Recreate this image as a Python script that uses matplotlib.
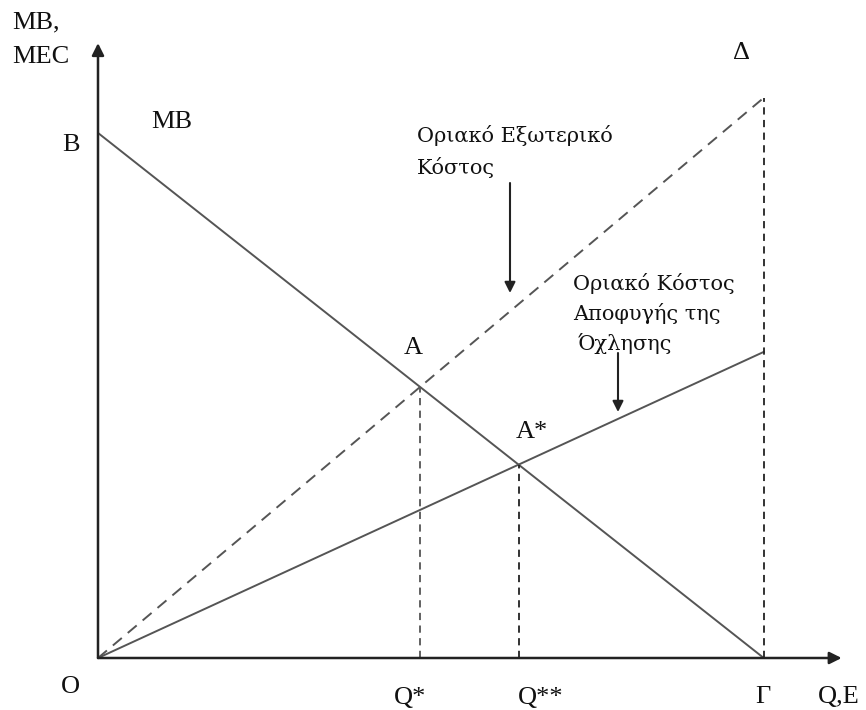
import matplotlib
matplotlib.use("Agg")
import matplotlib.pyplot as plt

# ---- diagram values (data units) ----
B_value = 10.0          # MB intercept on vertical axis (point B)
gamma_q = 10.0          # MB intercept on horizontal axis (point Γ)
mec_at_gamma = 10.67    # marginal external cost at Γ (point Δ)
mac_at_gamma = 5.83     # marginal abatement cost at Γ

x_max = 11.22
y_max = 11.77

# intersections
slope_mb = -B_value / gamma_q
slope_mec = mec_at_gamma / gamma_q
slope_mac = mac_at_gamma / gamma_q
q_star = B_value / (slope_mec - slope_mb)
p_star = slope_mec * q_star
q_2star = B_value / (slope_mac - slope_mb)
p_2star = slope_mac * q_2star

W, H = 866, 710
fig = plt.figure(figsize=(W / 100, H / 100), dpi=100)
left_px, right_px, bottom_px, top_px = 98, 845, 658, 40
ax = fig.add_axes([left_px / W, 1 - bottom_px / H,
                   (right_px - left_px) / W, (bottom_px - top_px) / H])
ax.set_xlim(0, x_max)
ax.set_ylim(0, y_max)
ax.axis("off")

serif = ["Liberation Serif", "DejaVu Serif"]
greek_font = ["DejaVu Serif"]
grey = "#555555"

# axes with arrows
ax.annotate("", xy=(x_max * 0.9955, 0), xytext=(0, 0), xycoords="data",
            arrowprops=dict(arrowstyle="-|>", lw=1.8, color="#222222",
                            mutation_scale=18, shrinkA=0, shrinkB=0))
ax.annotate("", xy=(0, y_max * 0.995), xytext=(0, 0),
            arrowprops=dict(arrowstyle="-|>", lw=1.8, color="#222222",
                            mutation_scale=18, shrinkA=0, shrinkB=0))

# MB line
ax.plot([0, gamma_q], [B_value, 0], color=grey, lw=1.4, solid_capstyle="butt")
# MEC dashed line
ax.plot([0, gamma_q], [0, mec_at_gamma], color=grey, lw=1.4, ls=(0, (6, 4)))
# MAC solid line
ax.plot([0, gamma_q], [0, mac_at_gamma], color=grey, lw=1.4)
# vertical dashed lines
ax.plot([gamma_q, gamma_q], [0, mec_at_gamma], color="#222222", lw=1.3, ls=(0, (4, 3)))
ax.plot([q_star, q_star], [0, p_star], color=grey, lw=1.3, ls=(0, (4, 3)))
ax.plot([q_2star, q_2star], [0, p_2star], color="#222222", lw=1.3, ls=(0, (4, 3)))

def px(xp, yp):
    return ((xp - left_px) / (right_px - left_px) * x_max,
            (bottom_px - yp) / (bottom_px - top_px) * y_max)

big = 19
def lab(txt, xp, yp, ha="center", size=big, family=None):
    x, y = px(xp, yp)
    ax.text(x, y, txt, ha=ha, va="center", fontsize=size,
            family=family or serif, clip_on=False, color="#111111")

lab("MB,", 12, 22, ha="left")
lab("MEC", 12, 57, ha="left")
lab("B", 71, 145)
lab("MB", 172, 122)
lab("Δ", 742, 53)
lab("A", 413, 348)
lab("A*", 532, 432)
lab("O", 70, 687)
lab("Q*", 410, 698)
lab("Q**", 541, 698)
lab("Γ", 763, 697)
lab("Q,E", 818, 697, ha="left")

small = 15
lab("Οριακό Εξωτερικό", 417, 135, ha="left", size=small, family=greek_font)
lab("Κόστος", 417, 167, ha="left", size=small, family=greek_font)
lab("Οριακό Κόστος", 573, 283, ha="left", size=small, family=greek_font)
lab("Αποφυγής της", 573, 313, ha="left", size=small, family=greek_font)
lab("Όχλησης", 578, 343, ha="left", size=small, family=greek_font)

# pointer arrows
ax.annotate("", xy=px(510, 293), xytext=px(510, 183),
            arrowprops=dict(arrowstyle="-|>", lw=1.5, color="#222222",
                            mutation_scale=16, shrinkA=0, shrinkB=0))
ax.annotate("", xy=px(618, 412), xytext=px(618, 353),
            arrowprops=dict(arrowstyle="-|>", lw=1.5, color="#222222",
                            mutation_scale=16, shrinkA=0, shrinkB=0))

fig.savefig("out.png", dpi=100, facecolor="white")
